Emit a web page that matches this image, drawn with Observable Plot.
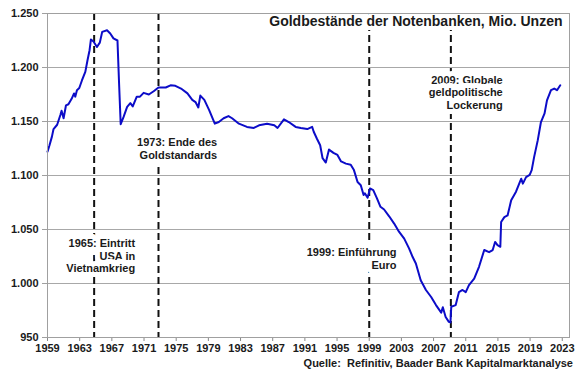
<!DOCTYPE html>
<html>
<head>
<meta charset="utf-8">
<script src="https://cdn.jsdelivr.net/npm/d3@7"></script>
<script src="https://cdn.jsdelivr.net/npm/@observablehq/plot@0.6"></script>
<style>
  html, body { margin: 0; padding: 0; background: #fff; }
  #chart { width: 580px; }
  .caption { font-family: "Liberation Sans", Arial, sans-serif; font-weight: bold; font-size: 11px; color: #1a1a1a; text-align: right; padding-right: 7px; line-height: 14px; }
</style>
</head>
<body>
<div id="chart"></div>
<div class="caption">Quelle:&nbsp; Refinitiv, Baader Bank Kapitalmarktanalyse</div>
<script>
const years = [1959.0,1959.25,1959.55,1959.75,1960.2,1960.6,1960.75,1961.0,1961.3,1961.6,1962.0,1962.3,1962.45,1962.66,1962.95,1963.28,1963.7,1963.98,1964.23,1964.4,1964.72,1965.15,1965.5,1965.8,1966.4,1966.8,1967.2,1967.7,1967.9,1968.1,1968.45,1968.9,1969.3,1969.6,1970.1,1970.5,1970.95,1971.6,1972.2,1972.8,1973.7,1974.3,1974.9,1975.6,1976.4,1977.0,1977.4,1977.75,1978.0,1978.5,1979.1,1979.8,1980.3,1980.9,1981.5,1981.95,1982.8,1983.8,1984.65,1985.3,1986.3,1987.2,1987.6,1988.4,1989.0,1989.85,1990.5,1991.3,1991.9,1992.1,1992.5,1992.9,1993.2,1993.6,1994.0,1994.55,1995.05,1995.5,1996.1,1996.7,1997.1,1997.55,1997.95,1998.3,1998.45,1998.8,1999.1,1999.5,1999.95,2000.4,2000.85,2001.5,2002.1,2002.7,2003.35,2003.95,2004.4,2004.8,2005.4,2006.05,2006.7,2007.3,2007.95,2008.15,2008.5,2008.9,2009.1,2009.2,2009.75,2010.15,2010.6,2011.0,2011.4,2012.05,2012.65,2013.3,2013.9,2014.35,2014.65,2014.95,2015.3,2015.4,2015.8,2016.2,2016.65,2017.25,2017.65,2017.9,2018.1,2018.5,2018.95,2019.2,2019.5,2019.95,2020.35,2020.8,2021.1,2021.6,2022.0,2022.35,2022.75];
const ounces = [1122,1128,1136,1143,1147,1156,1160,1153,1165,1166,1171,1176,1173,1179,1181,1188,1196,1207,1216,1226,1224,1219,1223,1233,1234.5,1231.5,1227,1225,1185,1147.5,1154,1163.5,1167,1164,1173,1173,1176.5,1175,1178,1181.5,1181.5,1183.5,1183,1180.5,1176,1170,1168,1163,1174,1170,1160.5,1148,1149.5,1153,1155,1153,1148,1145,1144,1146.5,1148,1146.5,1144,1152,1149.5,1145,1144,1143,1145,1140.5,1134,1128,1116,1112,1124,1121,1119,1113,1111,1110,1105,1094,1091,1082,1083.5,1079.5,1088,1086.5,1079,1071,1068.5,1062,1055.5,1048,1041.5,1032.5,1024.5,1018.5,1003,994,987.5,980,973,978,969,964.5,964,978.5,980,992,994,992,998.5,1004.5,1015.5,1031,1029,1031,1038.5,1035.5,1034,1057,1061.5,1063,1077,1085,1092.5,1097,1092.5,1098.5,1100.5,1105,1117,1132.5,1149.5,1157.5,1169.5,1179,1180.5,1179,1183.5];

const eventYears = [1964.8, 1972.8, 1999.0, 2009.15];
const eventLabels = ["1965: Eintritt\nUSA in\nVietnamkrieg", "1973: Ende des\nGoldstandards", "1999: Einführung\nEuro", "2009: Globale\ngeldpolitische\nLockerung"];
const labelX = [1969.9, 1980.1, 2002.4, 2015.6];
const labelY = [1026, 1125, 1023, 1177];

const xTicks = d3.range(1959, 2024, 4);
const yTicks = d3.range(950, 1251, 50);
const title = "Goldbestände der Notenbanken, Mio. Unzen";

const de = d3.formatLocale({decimal: ",", thousands: ".", grouping: [3], currency: ["", " €"]});
const fmt = de.format(",");

const series = years.map((y, i) => ({year: y, value: ounces[i]}));
const labels = eventLabels.map((t, i) => ({text: t, x: labelX[i], y: labelY[i]}));

const font = "'Liberation Sans', Arial, sans-serif";

const plot = Plot.plot({
  width: 580,
  height: 356,
  marginLeft: 47,
  marginRight: 11,
  marginTop: 13,
  marginBottom: 19,
  style: {fontFamily: font, fontSize: "11px", fontWeight: "bold", color: "#1a1a1a", background: "#fff"},
  x: {domain: [1959, 2023.9]},
  y: {domain: [950, 1250]},
  marks: [
    Plot.gridY(yTicks, {stroke: "#a8a8a8", strokeOpacity: 1, strokeWidth: 1}),
    Plot.axisX(xTicks, {tickSize: 4, tickPadding: 3, tickFormat: d => String(d), stroke: "#888", label: null, fill: "#1a1a1a"}),
    Plot.axisY(yTicks, {tickSize: 5, tickPadding: 4, tickFormat: fmt, stroke: "#a0a0a0", label: null, fill: "#1a1a1a"}),
    Plot.ruleX(eventYears, {stroke: "#111", strokeWidth: 2, strokeDasharray: "7,4"}),
    Plot.text(labels, {x: "x", y: "y", text: "text", textAnchor: "end", lineAnchor: "middle", lineHeight: 1.16, fill: "#1a1a1a", stroke: "#fff", strokeWidth: 10, fontSize: 11, fontWeight: "bold"}),
    Plot.line(series, {x: "year", y: "value", stroke: "#0c0cc8", strokeWidth: 2, curve: "linear"}),
    Plot.text([title], {frameAnchor: "top-right", dx: -7, dy: 3, fontSize: 14, fontWeight: "bold", fill: "#1a1a1a", stroke: "#fff", strokeWidth: 8, lineAnchor: "top"}),
    Plot.frame({stroke: "#a0a0a0", strokeWidth: 1})
  ]
});
document.getElementById("chart").appendChild(plot);
</script>
</body>
</html>
